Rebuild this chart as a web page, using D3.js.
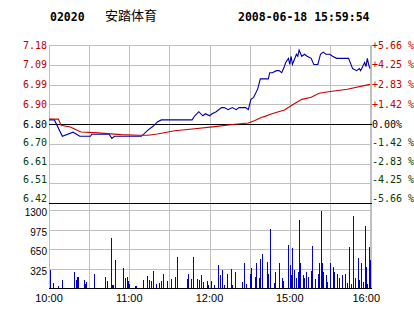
<!DOCTYPE html>
<html>
<head>
<meta charset="utf-8">
<script src="https://cdn.jsdelivr.net/npm/d3@7/dist/d3.min.js"></script>
<style>
  body { margin: 0; background: #fff; }
  svg { display: block; }
</style>
</head>
<body>
<div id="chart"></div>
<script>
// ---- data ----
var stockCode = "02020";
var stockName = "安踏体育";
var stamp = "2008-06-18 15:59:54";

var priceTicks = ["7.18", "7.09", "6.99", "6.90", "6.80", "6.70", "6.61", "6.51", "6.42"];
var pctTicks = ["+5.66 %", "+4.25 %", "+2.83 %", "+1.42 %", " 0.00%", "-1.42 %", "-2.83 %", "-4.25 %", "-5.66 %"];
var volTicks = [1300, 975, 650, 325, 0];
var gridTimes = ["10:00", "10:30", "11:00", "11:30", "12:00", "12:30", "15:00", "15:30", "16:00"];
var timeLabels = ["10:00", "11:00", "12:00", "15:00", "16:00"];

var priceTimes = ["10:00", "10:04", "10:10", "10:18", "10:23", "10:31", "10:32", "10:45", "10:47", "10:49",
  "11:09", "11:14", "11:18", "11:21", "11:24", "11:47", "11:49", "11:52", "11:55", "11:57",
  "12:00", "12:02", "12:05", "12:09", "12:11", "12:14", "12:17", "12:20", "12:22", "12:27", "12:29",
  "14:31", "14:33", "14:36", "14:38", "14:44", "14:45", "14:47", "14:50", "14:52", "14:54",
  "14:56", "14:57", "14:59", "15:00", "15:01", "15:02", "15:05", "15:06", "15:07", "15:09",
  "15:11", "15:13", "15:16", "15:18", "15:21", "15:23", "15:25", "15:27", "15:30", "15:32",
  "15:35", "15:44", "15:47", "15:50", "15:52", "15:53", "15:56", "15:57", "15:58", "15:59", "16:00"];
var prices = [6.82, 6.82, 6.74, 6.76, 6.74, 6.74, 6.75, 6.75, 6.73, 6.74,
  6.74, 6.77, 6.79, 6.81, 6.82, 6.82, 6.84, 6.86, 6.84, 6.85,
  6.84, 6.85, 6.86, 6.88, 6.88, 6.87, 6.88, 6.87, 6.88, 6.88, 6.87,
  6.92, 6.93, 6.97, 7.02, 7.02, 7.05, 7.05, 7.06, 7.06, 7.05,
  7.08, 7.10, 7.12, 7.09, 7.13, 7.09, 7.14, 7.13, 7.16, 7.13,
  7.14, 7.13, 7.12, 7.09, 7.09, 7.14, 7.15, 7.14, 7.14, 7.13,
  7.12, 7.12, 7.07, 7.06, 7.07, 7.06, 7.10, 7.08, 7.12, 7.09, 7.07];

var avgTimes = ["10:00", "10:07", "10:09", "10:16", "10:21", "10:24", "10:34", "10:44", "10:54", "11:07",
  "11:14", "11:21", "11:34", "11:49", "12:04", "12:19", "12:29", "14:34", "14:39", "14:41",
  "14:46", "14:56", "14:58", "15:04", "15:09", "15:16", "15:22", "15:29", "15:43", "16:00"];
var avgPrices = [6.824, 6.824, 6.794, 6.785, 6.769, 6.761, 6.758, 6.753, 6.748, 6.745,
  6.745, 6.751, 6.767, 6.777, 6.787, 6.799, 6.805, 6.817, 6.833, 6.836,
  6.849, 6.868, 6.877, 6.901, 6.920, 6.930, 6.950, 6.957, 6.969, 6.993];

var volTimes = ["10:01", "10:03", "10:07", "10:10", "10:19", "10:20", "10:21", "10:22", "10:26", "10:27",
  "10:28", "10:34", "10:42", "10:43", "10:46", "10:47", "10:48", "10:49", "10:55", "10:57",
  "10:58", "10:59", "11:00", "11:04", "11:05", "11:10", "11:13", "11:15", "11:16", "11:18",
  "11:20", "11:22", "11:24", "11:25", "11:28", "11:31", "11:34", "11:36", "11:43", "11:44",
  "11:46", "11:48", "11:51", "11:52", "11:54", "11:55", "11:58", "11:59", "12:01", "12:03",
  "12:06", "12:08", "12:09", "12:11", "12:13", "12:16", "12:17", "12:19", "12:24", "12:26",
  "12:27", "14:30", "14:31", "14:34", "14:35", "14:37", "14:38", "14:39", "14:43", "14:44",
  "14:45", "14:48", "14:49", "14:52", "14:54", "14:55", "14:59", "15:00", "15:01", "15:02",
  "15:03", "15:05", "15:06", "15:07", "15:08", "15:10", "15:11", "15:12", "15:14", "15:16",
  "15:17", "15:19", "15:21", "15:22", "15:23", "15:24", "15:25", "15:27", "15:28", "15:30",
  "15:32", "15:33", "15:35", "15:37", "15:39", "15:41", "15:43", "15:44", "15:46", "15:47",
  "15:49", "15:51", "15:52", "15:53", "15:55", "15:56", "15:57", "15:58", "15:59", "16:00"];
var volumes = [300, 90, 30, 130, 260, 130, 180, 180, 130, 70,
  100, 240, 180, 110, 830, 45, 45, 460, 340, 170,
  180, 110, 70, 30, 30, 130, 200, 130, 110, 280,
  70, 90, 110, 240, 110, 150, 180, 520, 150, 240,
  150, 520, 150, 130, 220, 100, 110, 45, 110, 55,
  380, 220, 300, 55, 240, 310, 55, 270, 100, 420,
  70, 240, 340, 180, 410, 170, 480, 560, 430, 240,
  980, 90, 270, 410, 170, 110, 710, 380, 210, 660,
  300, 170, 270, 1130, 410, 210, 170, 270, 180, 280,
  700, 150, 240, 410, 1280, 410, 270, 210, 100, 420,
  350, 270, 240, 170, 220, 240, 90, 690, 70, 1200,
  160, 500, 130, 410, 100, 1040, 350, 70, 690, 460];

// ---- layout ----
var width = 414, height = 314;
var left = 49, right = 370;
var priceTop = 45, priceBottom = 203;
var volTop = 210, volBottom = 288;

// minutes of trading since 10:00, lunch break (12:30-14:30) removed
function sessionMinute(t) {
  var p = t.split(":");
  var m = (+p[0]) * 60 + (+p[1]);
  return m <= 750 ? m - 600 : m - 870 + 150;
}

var x = d3.scaleLinear().domain([0, 240]).range([left, right]);
var y = d3.scaleLinear().domain([6.415, 7.185]).range([priceBottom, priceTop]);
var gridY = d3.scalePoint().domain(priceTicks).range([priceTop, priceBottom]);
var yv = d3.scaleLinear().domain([0, 1300]).range([volBottom, volTop]);

var svg = d3.select("#chart").append("svg")
  .attr("width", width)
  .attr("height", height);

var grid = svg.append("g")
  .attr("stroke", "#c0c0c0")
  .attr("stroke-width", 1)
  .attr("shape-rendering", "crispEdges");

// vertical grid
grid.selectAll("line.v")
  .data(gridTimes)
  .enter().append("line")
  .attr("class", "v")
  .attr("x1", function (d) { return Math.round(x(sessionMinute(d))) + 0.5; })
  .attr("x2", function (d) { return Math.round(x(sessionMinute(d))) + 0.5; })
  .attr("y1", priceTop)
  .attr("y2", volBottom);

// right border
grid.append("line")
  .attr("x1", right + 1.5).attr("x2", right + 1.5)
  .attr("y1", priceTop).attr("y2", volBottom);

// price grid
grid.selectAll("line.p")
  .data(priceTicks)
  .enter().append("line")
  .attr("class", "p")
  .attr("x1", left).attr("x2", right + 2)
  .attr("y1", function (d) { return Math.round(gridY(d)) + 0.5; })
  .attr("y2", function (d) { return Math.round(gridY(d)) + 0.5; })
  .attr("stroke", function (d, i) { return (i == 4 || i == priceTicks.length - 1) ? "#000" : null; });

// volume grid
grid.selectAll("line.vol")
  .data(volTicks)
  .enter().append("line")
  .attr("class", "vol")
  .attr("x1", left).attr("x2", right + 2)
  .attr("y1", function (d) { return Math.round(yv(d)) + 0.5; })
  .attr("y2", function (d) { return Math.round(yv(d)) + 0.5; })
  .attr("stroke", function (d) { return d == 0 ? "#000" : null; });

// volume bars
svg.append("g")
  .attr("fill", "#0000c8")
  .attr("shape-rendering", "crispEdges")
  .selectAll("rect")
  .data(volTimes)
  .enter().append("rect")
  .attr("x", function (d) { return Math.round(x(sessionMinute(d))); })
  .attr("width", 1)
  .attr("y", function (d, i) { return Math.round(yv(volumes[i])); })
  .attr("height", function (d, i) { return Math.round(yv(0)) - Math.round(yv(volumes[i])); });

// price and average lines
var line = d3.line()
  .x(function (d) { return x(sessionMinute(d[0])); })
  .y(function (d) { return y(d[1]); });

svg.append("path")
  .datum(d3.zip(priceTimes, prices))
  .attr("d", line)
  .attr("fill", "none")
  .attr("stroke", "#0000a8")
  .attr("stroke-width", 1.1);

svg.append("path")
  .datum(d3.zip(avgTimes, avgPrices))
  .attr("d", line)
  .attr("fill", "none")
  .attr("stroke", "#cc0000")
  .attr("stroke-width", 1.1);

// axis labels
function tickColor(i) {
  if (i < 4) return "#c00000";
  if (i == 4) return "#000";
  return "#004000";
}
function labelY(d) {
  var g = gridY(d);
  var mid = gridY(priceTicks[4]);
  return g <= mid ? g : mid + (g - mid) * 0.94;
}

svg.append("g")
  .attr("font-family", "DejaVu Sans Mono, monospace")
  .attr("font-size", 10)
  .selectAll("text")
  .data(priceTicks)
  .enter().append("text")
  .attr("x", 47)
  .attr("y", labelY)
  .attr("dy", "0.36em")
  .attr("text-anchor", "end")
  .attr("fill", function (d, i) { return tickColor(i); })
  .text(function (d) { return d; });

svg.append("g")
  .attr("font-family", "DejaVu Sans Mono, monospace")
  .attr("font-size", 10)
  .style("white-space", "pre")
  .selectAll("text")
  .data(pctTicks)
  .enter().append("text")
  .attr("x", 372)
  .attr("y", function (d, i) { return labelY(priceTicks[i]); })
  .attr("dy", "0.36em")
  .attr("fill", function (d, i) { return tickColor(i); })
  .text(function (d) { return d; });

svg.append("g")
  .attr("font-family", "Liberation Sans, Arial, sans-serif")
  .attr("font-size", 10)
  .selectAll("text")
  .data(volTicks.slice(0, 4))
  .enter().append("text")
  .attr("x", 47)
  .attr("y", function (d) { return yv(d) + 6; })
  .attr("text-anchor", "end")
  .attr("fill", "#000")
  .text(function (d) { return d; });

svg.append("g")
  .attr("font-family", "Liberation Sans, Arial, sans-serif")
  .attr("font-size", 11)
  .selectAll("text")
  .data(timeLabels)
  .enter().append("text")
  .attr("x", function (d, i) {
    var px = x(sessionMinute(d));
    return i == timeLabels.length - 1 ? px + 10 : px;
  })
  .attr("y", 302)
  .attr("text-anchor", function (d, i) { return i == timeLabels.length - 1 ? "end" : "middle"; })
  .attr("fill", "#000")
  .text(function (d) { return d; });

// title
var title = svg.append("g").attr("fill", "#000");
title.append("text")
  .attr("x", 50).attr("y", 20.5)
  .attr("font-family", "DejaVu Sans Mono, monospace")
  .attr("font-weight", "bold")
  .attr("font-size", 11.5)
  .text(stockCode);
title.append("text")
  .attr("x", 105).attr("y", 20)
  .attr("font-family", "Noto Sans CJK SC, sans-serif")
  .attr("font-size", 13)
  .text(stockName);
title.append("text")
  .attr("x", 238).attr("y", 20.5)
  .attr("font-family", "DejaVu Sans Mono, monospace")
  .attr("font-weight", "bold")
  .attr("font-size", 11.5)
  .text(stamp);
</script>
</body>
</html>
